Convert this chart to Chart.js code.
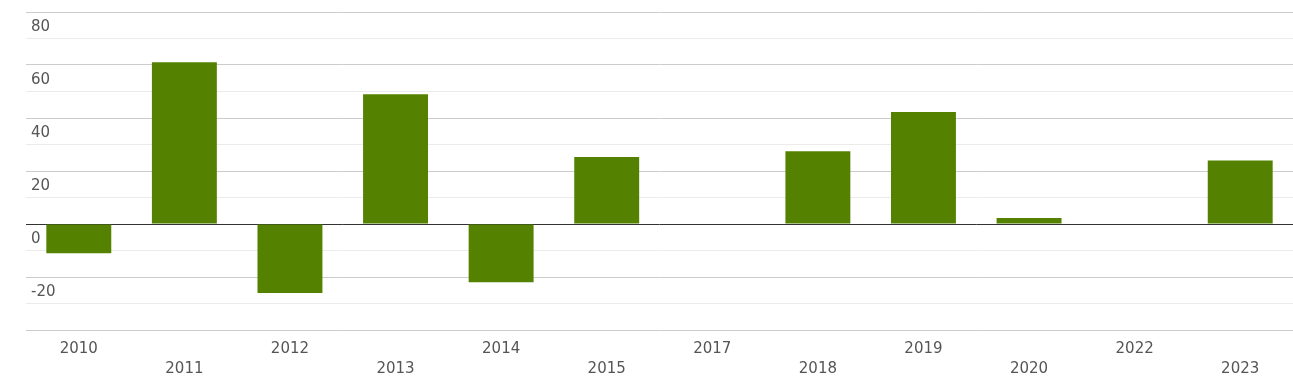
<!DOCTYPE html>
<html>
<head>
<meta charset="utf-8">
<script src="https://cdn.jsdelivr.net/npm/chart.js@4"></script>
<style>
    html, body { margin: 0; padding: 0; background: #fff; }
    #wrap { width: 1293px; height: 384px; }
</style>
</head>
<body>
<div id="wrap"><canvas id="bar_chart"></canvas></div>
<script>
const years = ['2010', '2011', '2012', '2013', '2014', '2015', '2017', '2018', '2019', '2020', '2022', '2023'];
const values = [-11, 61, -26, 49, -22, 25.3, 0, 27.5, 42.3, 2.3, 0, 24];
const yMin = -40;
const yMax = 80;

const ctx = document.getElementById('bar_chart').getContext('2d');
const chart = new Chart(ctx, {
    type: 'bar',
    data: {
        labels: years,
        datasets: [{
            data: values,
            backgroundColor: '#548200',
            barPercentage: 0.615,
            categoryPercentage: 1
        }]
    },
    options: {
        responsive: true,
        maintainAspectRatio: false,
        animation: false,
        layout: {padding: {left: 16, top: 12, right: 0, bottom: -4}},
        plugins: {
            legend: {display: false},
            tooltip: {enabled: false}
        },
        scales: {
            x: {
                grid: {display: false, drawTicks: false},
                border: {display: false},
                ticks: {
                    autoSkip: false,
                    maxRotation: 0,
                    padding: 9,
                    color: '#555',
                    font: {family: 'DejaVu Sans', size: 15, lineHeight: '20px'},
                    callback: function (value, index) {
                        const label = this.getLabelForValue(value);
                        return index % 2 ? ['', label] : [label, ''];
                    }
                }
            },
            y: {
                min: yMin,
                max: yMax,
                border: {display: false},
                grid: {
                    drawTicks: false,
                    color: function (c) {
                        const v = c.tick.value;
                        if (v === 0) return '#333';
                        return v % 20 === 0 ? '#ccc' : '#ebebeb';
                    }
                },
                ticks: {
                    stepSize: 10,
                    mirror: true,
                    padding: 5,
                    labelOffset: 15,
                    color: '#555',
                    font: {family: 'DejaVu Sans', size: 15, lineHeight: '8px'},
                    callback: function (value) {
                        return (value % 20 === 0 && value > yMin) ? value : '';
                    }
                }
            }
        }
    }
});
</script>
</body>
</html>
